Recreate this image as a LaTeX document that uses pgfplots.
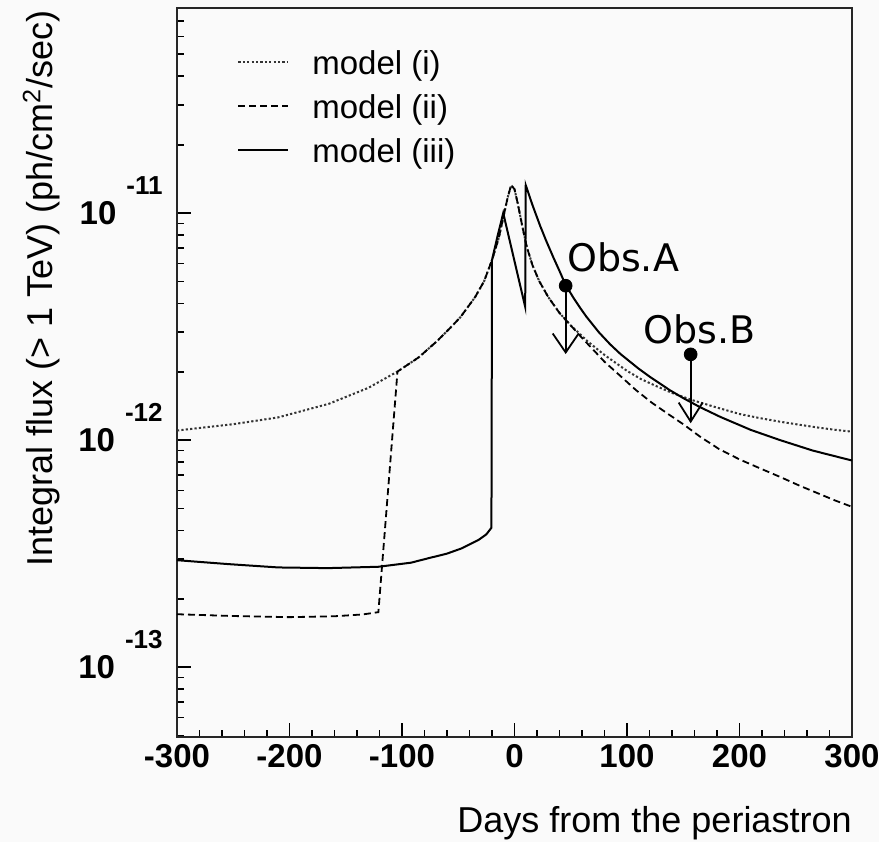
\documentclass[border=0pt]{standalone}
\usepackage{fontspec}
\setmainfont{Liberation Sans}
\newfontfamily\obsfont{DejaVu Sans}
\usepackage{pgfplots}
\pgfplotsset{compat=1.18}
\usetikzlibrary{arrows.meta}
\definecolor{bgcol}{RGB}{250,250,250}
\newcommand{\ylab}[1]{10\hspace{5pt}\smash{\raisebox{15pt}{\fontsize{13}{14}\selectfont #1}}}

\begin{document}
\begin{tikzpicture}
\fill[bgcol] (-88.5pt,-52.5pt) rectangle (351pt,368.5pt);
\path[use as bounding box] (-88.5pt,-52.5pt) rectangle (351pt,368.5pt);
\begin{axis}[
  scale only axis,
  width=337.5pt, height=364.5pt,
  xmin=-300, xmax=300,
  ymode=log, ymin=4.92e-14, ymax=8e-11,
  axis line style={line width=1.1pt, black!85},
  tick style={line width=0.9pt, black},
  tick align=inside, tick pos=left,
  major tick length=7pt, minor tick length=3.5pt,
  xtick={-300,-200,-100,0,100,200,300},
  xticklabels={\textbf{-300},\textbf{-200},\textbf{-100},\textbf{0},\textbf{100},\textbf{200},\textbf{300}},
  minor x tick num=4,
  ytick={1e-13,1e-12,1e-11},
  yticklabels={\textbf{\ylab{-13}},\textbf{\ylab{-12}},\textbf{\ylab{-11}}},
  minor ytick={5e-14,6e-14,7e-14,8e-14,9e-14,
    2e-13,3e-13,4e-13,5e-13,6e-13,7e-13,8e-13,9e-13,
    2e-12,3e-12,4e-12,5e-12,6e-12,7e-12,8e-12,9e-12,
    2e-11,3e-11,4e-11,5e-11,6e-11,7e-11},
  xticklabel style={font=\fontsize{16.5}{18}\selectfont\bfseries},
  yticklabel style={font=\fontsize{16.5}{18}\selectfont\bfseries, inner sep=0pt, xshift=-7pt, anchor=east},
  xlabel={Days from the periastron},
  xlabel style={at={([yshift=-47.5pt]rel axis cs:1,0)}, anchor=base east, inner sep=0pt,
    font=\fontsize{18}{20}\selectfont},
  ylabel={Integral flux (> 1 TeV) (ph/cm\textsuperscript{2}/sec)},
  ylabel style={at={([xshift=-62pt,yshift=-1pt]rel axis cs:0,1)}, anchor=base east, inner sep=0pt,
    font=\fontsize{18}{20}\selectfont},
  legend style={at={(0.0889,0.943)}, anchor=north west, draw=none, fill=none, inner sep=0pt,
    row sep=6pt, column sep=11.5pt, font=\fontsize{16.5}{19.8}\selectfont,
    nodes={inner sep=0pt, text height=12pt, text depth=4pt}},
  legend cell align=left,
  legend image code/.code={\draw[#1] (0pt,2pt) -- (25pt,2pt);},
]
% model (i): dotted
\addplot[black!80, line width=1pt, dash pattern=on 1.1pt off 1.1pt] coordinates {
  (-300,1.102e-12) (-250,1.175e-12) (-210,1.259e-12) (-165,1.445e-12) (-130,1.698e-12)
  (-104,2.004e-12) (-85,2.317e-12) (-68,2.754e-12) (-55,3.199e-12) (-48,3.483e-12)
  (-35,4.266e-12) (-27,5.012e-12) (-20,6.209e-12) (-14,7.762e-12) (-10,9.550e-12)
  (-6,1.175e-11) (-3,1.327e-11) (0,1.274e-11) (3,1.096e-11) (7,8.710e-12)
  (11,7.079e-12) (16,5.888e-12) (22,5.012e-12) (30,4.266e-12) (40,3.631e-12)
  (50,3.199e-12) (65,2.723e-12) (80,2.371e-12) (100,2.018e-12) (112,1.862e-12)
  (125,1.738e-12) (140,1.614e-12) (158,1.500e-12) (178,1.400e-12) (200,1.303e-12)
  (218,1.250e-12) (236,1.205e-12) (253,1.169e-12) (270,1.135e-12) (285,1.110e-12)
  (300,1.089e-12)};
\addlegendentry{model (i)}
% model (ii): dashed
\addplot[black, line width=0.9pt, dash pattern=on 3.5pt off 2pt] coordinates {
  (-300,1.710e-13) (-250,1.679e-13) (-200,1.660e-13) (-160,1.675e-13) (-135,1.706e-13)
  (-121,1.746e-13) (-104,2.004e-12) (-85,2.317e-12) (-68,2.754e-12) (-55,3.199e-12)
  (-48,3.483e-12) (-35,4.266e-12) (-27,5.012e-12) (-20,6.209e-12) (-14,7.762e-12)
  (-10,9.550e-12) (-6,1.175e-11) (-3,1.327e-11) (0,1.274e-11) (3,1.096e-11)
  (7,8.710e-12) (11,7.079e-12) (16,5.888e-12) (22,5.012e-12) (30,4.266e-12)
  (40,3.631e-12) (50,3.199e-12) (60,2.818e-12) (70,2.500e-12) (80,2.213e-12)
  (94,1.919e-12) (108,1.660e-12) (122,1.462e-12) (138,1.288e-12) (150,1.175e-12)
  (165,1.035e-12) (182,9.120e-13) (200,8.222e-13) (218,7.516e-13) (236,6.887e-13)
  (253,6.310e-13) (270,5.821e-13) (285,5.420e-13) (300,5.082e-13)};
\addlegendentry{model (ii)}
% model (iii): solid
\addplot[black, line width=1pt] coordinates {
  (-300,2.958e-13) (-255,2.844e-13) (-210,2.748e-13) (-166,2.729e-13) (-121,2.767e-13)
  (-92,2.884e-13) (-77,3.013e-13) (-60,3.162e-13) (-47,3.334e-13) (-32,3.631e-13)
  (-25,3.846e-13) (-20.5,4.111e-13) (-20,6.209e-12) (-15,7.943e-12) (-10,1.000e-11)
  (9.5,3.864e-12) (10,1.327e-11) (16,1.084e-11) (22.7,8.810e-12) (28,7.586e-12)
  (34.5,6.383e-12) (40,5.559e-12) (45.5,4.819e-12) (52,4.266e-12) (58,3.846e-12)
  (64,3.491e-12) (75,2.985e-12) (85,2.642e-12) (94,2.399e-12) (110,2.070e-12)
  (120,1.905e-12) (138,1.660e-12) (150,1.531e-12) (165,1.396e-12) (183,1.265e-12)
  (210,1.109e-12) (236,1.000e-12) (265,8.995e-13) (300,8.128e-13)};
\addlegendentry{model (iii)}
% observations: upper limits
\addplot[black, line width=0.9pt, -{Straight Barb[length=9.5pt,width=13pt]}, forget plot]
  coordinates {(45.5,4.786e-12) (45.5,2.393e-12)};
\addplot[black, line width=0.9pt, -{Straight Barb[length=9.5pt,width=12pt]}, forget plot]
  coordinates {(156.6,2.386e-12) (156.6,1.186e-12)};
\addplot[black, only marks, mark=*, mark size=3.2pt, forget plot]
  coordinates {(45.5,4.786e-12) (156.6,2.386e-12)};
\node[anchor=base west, inner sep=0pt, font=\obsfont\fontsize{19}{22}\selectfont]
  at (axis cs:46.4,5.51e-12) {Obs.A};
\node[anchor=base west, inner sep=0pt, font=\obsfont\fontsize{19}{22}\selectfont]
  at (axis cs:114.5,2.667e-12) {Obs.B};
\end{axis}
\end{tikzpicture}
\end{document}
